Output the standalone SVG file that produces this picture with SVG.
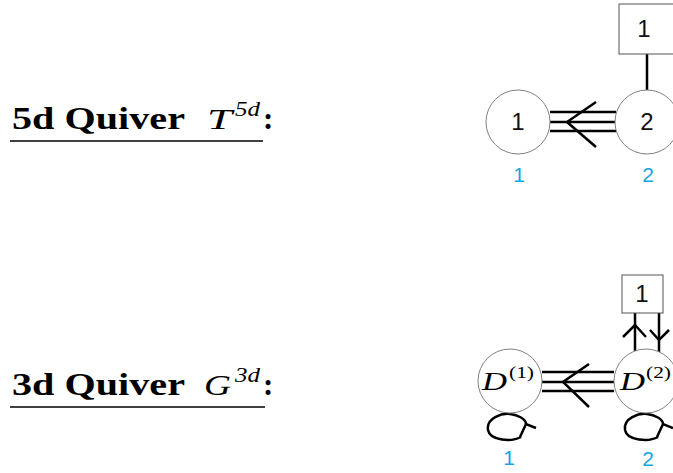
<svg xmlns="http://www.w3.org/2000/svg" width="673" height="473" viewBox="0 0 673 473">
<style>
.title{font-family:"Liberation Serif",serif;font-weight:bold;font-size:31px;fill:#000}
.math{font-family:"Liberation Serif",serif;font-style:italic;fill:#000}
.sup{font-family:"Liberation Serif",serif;font-style:normal;fill:#000}
.node{fill:#fff;stroke:#808080;stroke-width:1}
.box{fill:#fff;stroke:#555;stroke-width:1}
.lbl{font-family:"Liberation Sans",sans-serif;font-size:24px;fill:#111;text-anchor:middle}
.blue{font-family:"Liberation Sans",sans-serif;font-size:21px;fill:#16a6e0;text-anchor:middle}
.edge{fill:none;stroke:#000;stroke-width:2.5}
.ul{stroke:#000;stroke-width:1.5}
</style>
<rect width="673" height="473" fill="#fff"/>
<g id="title-5d">
<text class="title" x="12" y="129" textLength="173" lengthAdjust="spacingAndGlyphs">5d Quiver</text>
<text class="math" x="207" y="129" font-size="30" textLength="25" lengthAdjust="spacingAndGlyphs">T</text>
<text class="math" x="235" y="116" font-size="20" textLength="25" lengthAdjust="spacingAndGlyphs">5d</text>
<text class="title" x="263" y="129">:</text>
<line class="ul" x1="10" y1="141" x2="263" y2="141"/>
</g>
<g id="title-3d">
<text class="title" x="12" y="395" textLength="173" lengthAdjust="spacingAndGlyphs">3d Quiver</text>
<text class="math" x="204" y="395" font-size="30" textLength="27" lengthAdjust="spacingAndGlyphs">G</text>
<text class="math" x="235" y="382" font-size="20" textLength="25" lengthAdjust="spacingAndGlyphs">3d</text>
<text class="title" x="263" y="395">:</text>
<line class="ul" x1="10" y1="407" x2="265" y2="407"/>
</g>
<g id="connectors">
<line class="edge" x1="550" y1="112" x2="616" y2="112"/>
<line class="edge" x1="550" y1="122" x2="616" y2="122"/>
<line class="edge" x1="550" y1="131" x2="616" y2="131"/>
<polyline class="edge" points="596,102 567,122 596,147"/>
<line class="edge" x1="647" y1="54" x2="647" y2="90"/>
<line class="edge" x1="542" y1="372" x2="614" y2="372"/>
<line class="edge" x1="542" y1="382" x2="614" y2="382"/>
<line class="edge" x1="542" y1="391" x2="614" y2="391"/>
<polyline class="edge" points="589,364 563,382 589,407"/>
<line class="edge" x1="635" y1="313" x2="635" y2="351"/>
<polyline class="edge" points="623,337 635,325 646,337"/>
<line class="edge" x1="659" y1="313" x2="659" y2="352"/>
<polyline class="edge" points="650,330 659,340 669,330"/>
<path class="edge" d="M521,437 C512,442 490,441 488,430 C486,418 502,413 510,414 C518,415 526,419 526,424"/>
<polyline class="edge" points="520,437 526,424 536,428"/>
<path class="edge" d="M658,437 C649,442 627,441 625,430 C623,418 639,413 647,414 C655,415 663,419 663,424"/>
<polyline class="edge" points="657,437 663,424 673,428"/>
</g>
<g id="t-node1">
<circle class="node" cx="518" cy="122" r="32"/>
<text class="lbl" x="518" y="130">1</text>
<text class="blue" x="519" y="182">1</text>
</g>
<g id="t-node2">
<circle class="node" cx="647" cy="122" r="32"/>
<text class="lbl" x="647" y="130">2</text>
<text class="blue" x="648" y="182">2</text>
</g>
<g id="t-box1">
<rect class="box" x="619" y="4" width="70" height="50"/>
<text class="lbl" x="644" y="37" font-size="22">1</text>
</g>
<g id="g-node1">
<circle class="node" cx="510" cy="381" r="32"/>
<text class="math" x="482" y="390" font-size="26" textLength="25" lengthAdjust="spacingAndGlyphs">D</text>
<text class="sup" x="509" y="378" font-size="17" textLength="25" lengthAdjust="spacingAndGlyphs">(1)</text>
<text class="blue" x="509" y="465">1</text>
</g>
<g id="g-node2">
<circle class="node" cx="646" cy="381" r="32"/>
<text class="math" x="620" y="390" font-size="26" textLength="25" lengthAdjust="spacingAndGlyphs">D</text>
<text class="sup" x="646" y="378" font-size="17" textLength="25" lengthAdjust="spacingAndGlyphs">(2)</text>
<text class="blue" x="648" y="466">2</text>
</g>
<g id="g-box1">
<rect class="box" x="622" y="275" width="41" height="38"/>
<text class="lbl" x="642" y="302" font-size="22">1</text>
</g>
</svg>
